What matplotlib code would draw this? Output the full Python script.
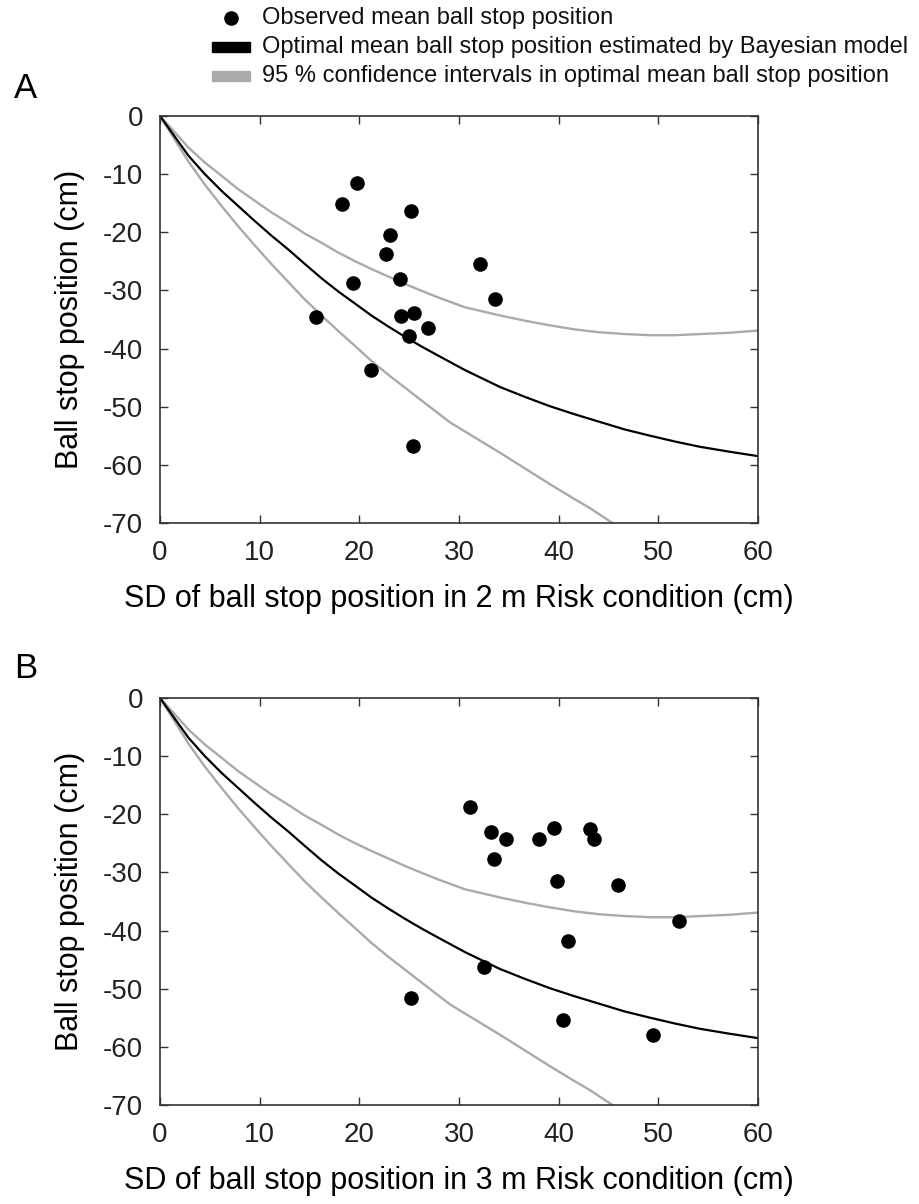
import matplotlib.pyplot as plt
from matplotlib.lines import Line2D
from matplotlib.patches import Rectangle

plt.rcParams['font.family'] = ['Liberation Sans', 'DejaVu Sans']
plt.rcParams['axes.unicode_minus'] = False

# model curves (same model in both panels)
model_x = [0, 1.17, 2.84, 4.5, 6.19, 7.86, 9.53, 11.2, 12.9, 14.5, 16.2, 17.9, 19.6, 21.2,
           22.9, 24.6, 26.3, 27.9, 30.6, 34.1, 36.6, 39.1, 41.6, 44.1, 46.6, 49.2, 51.7,
           54.2, 57.0, 60.0]
model_mean = [0, -2.8, -6.8, -10.0, -12.9, -15.5, -18.1, -20.6, -23.0, -25.4, -27.9, -30.2,
              -32.3, -34.3, -36.2, -38.0, -39.7, -41.2, -43.7, -46.6, -48.3, -49.9, -51.3,
              -52.6, -53.9, -55.0, -56.0, -56.9, -57.7, -58.5]
model_upper = [0, -2.2, -5.4, -8.0, -10.3, -12.6, -14.6, -16.6, -18.4, -20.2, -21.8, -23.5,
               -25.0, -26.3, -27.6, -28.9, -30.1, -31.2, -32.9, -34.3, -35.2, -36.0, -36.7,
               -37.2, -37.5, -37.7, -37.7, -37.5, -37.3, -36.9]
lower_x = [0, 1.17, 2.84, 4.5, 6.19, 7.86, 9.53, 11.2, 12.9, 14.5, 16.2, 17.9, 19.6, 21.2,
           22.9, 26.3, 29.1, 31.5, 34.1, 36.6, 39.1, 41.5, 43.1, 45.4]
model_lower = [0, -3.2, -7.8, -11.8, -15.5, -19.0, -22.3, -25.5, -28.6, -31.5, -34.3, -37.0,
               -39.6, -42.1, -44.5, -49.0, -52.7, -55.2, -57.9, -60.6, -63.3, -65.8, -67.4,
               -70.0]

# observed points, panel A (2 m)
a_sd = [19.8, 18.3, 25.2, 23.1, 22.7, 32.1, 24.1, 19.4, 33.6, 24.2, 25.5, 26.9, 25.0, 15.7, 21.2, 25.4]
a_mean = [-11.6, -15.1, -16.4, -20.4, -23.7, -25.5, -28.0, -28.8, -31.5, -34.4, -33.9, -36.5, -37.8, -34.5, -43.6, -56.7]

# observed points, panel B (3 m)
b_sd = [31.1, 33.2, 34.7, 38.0, 39.5, 43.1, 43.5, 33.5, 39.8, 46.0, 52.1, 40.9, 32.5, 25.2, 40.4, 49.5]
b_mean = [-18.7, -23.0, -24.2, -24.2, -22.3, -22.6, -24.2, -27.7, -31.4, -32.1, -38.4, -41.8, -46.3, -51.6, -55.3, -57.9]

x_ticks = [0, 10, 20, 30, 40, 50, 60]
y_ticks = [0, -10, -20, -30, -40, -50, -60, -70]

legend_labels = ["Observed mean ball stop position",
                 "Optimal mean ball stop position estimated by Bayesian model",
                 "95 % confidence intervals in optimal mean ball stop position"]

GRAY = '#aaaaaa'
W, H = 919, 1204
fig = plt.figure(figsize=(W / 100, H / 100), dpi=100)


def box(left, top, right, bottom):
    return [left / W, 1 - bottom / H, (right - left) / W, (bottom - top) / H]


def draw_panel(ax, sd, mean, xlabel):
    ax.plot(model_x, model_upper, color=GRAY, lw=1.7)
    ax.plot(lower_x, model_lower, color=GRAY, lw=1.7)
    ax.plot(model_x, model_mean, color='black', lw=1.6)
    ax.plot(sd, mean, 'o', color='black', ms=10.5, mew=0)
    ax.set_xlim(0, 60)
    ax.set_ylim(-70, 0)
    ax.set_xticks(x_ticks)
    ax.set_yticks(y_ticks)
    ax.tick_params(direction='in', top=True, right=True, length=6, width=1,
                   labelsize=20, pad=12, color='#333333', labelcolor='#222222')
    for s in ax.spines.values():
        s.set_color('#333333')
        s.set_linewidth(1.2)
    ax.set_xlabel(xlabel, fontsize=22, labelpad=13)
    ax.set_ylabel("Ball stop position (cm)", fontsize=22, labelpad=13)


ax_a = fig.add_axes(box(160, 116, 758, 523))
draw_panel(ax_a, a_sd, a_mean, "SD of ball stop position in 2 m Risk condition (cm)")
ax_b = fig.add_axes(box(160, 698, 758, 1105))
draw_panel(ax_b, b_sd, b_mean, "SD of ball stop position in 3 m Risk condition (cm)")

fig.text(14 / W, 1 - 88 / H, "A", fontsize=25, va='center', ha='left')
fig.text(14 / W, 1 - 668 / H, "B", fontsize=25, va='center', ha='left')

# legend drawn at the top of the figure
rows = [18, 47, 76]
fig.add_artist(Line2D([231 / W], [1 - rows[0] / H], marker='o', color='black',
                      ms=10.5, mew=0, transform=fig.transFigure))
fig.add_artist(Rectangle((212 / W, 1 - (rows[1] + 5) / H), 38 / W, 10 / H,
                         color='black', transform=fig.transFigure))
fig.add_artist(Rectangle((212 / W, 1 - (rows[2] + 5) / H), 38 / W, 10 / H,
                         color=GRAY, transform=fig.transFigure))
for r, lab in zip(rows, legend_labels):
    fig.text(262 / W, 1 - r / H, lab, fontsize=17, va='center', ha='left', color='#111111')

fig.savefig("out.png", dpi=100)
